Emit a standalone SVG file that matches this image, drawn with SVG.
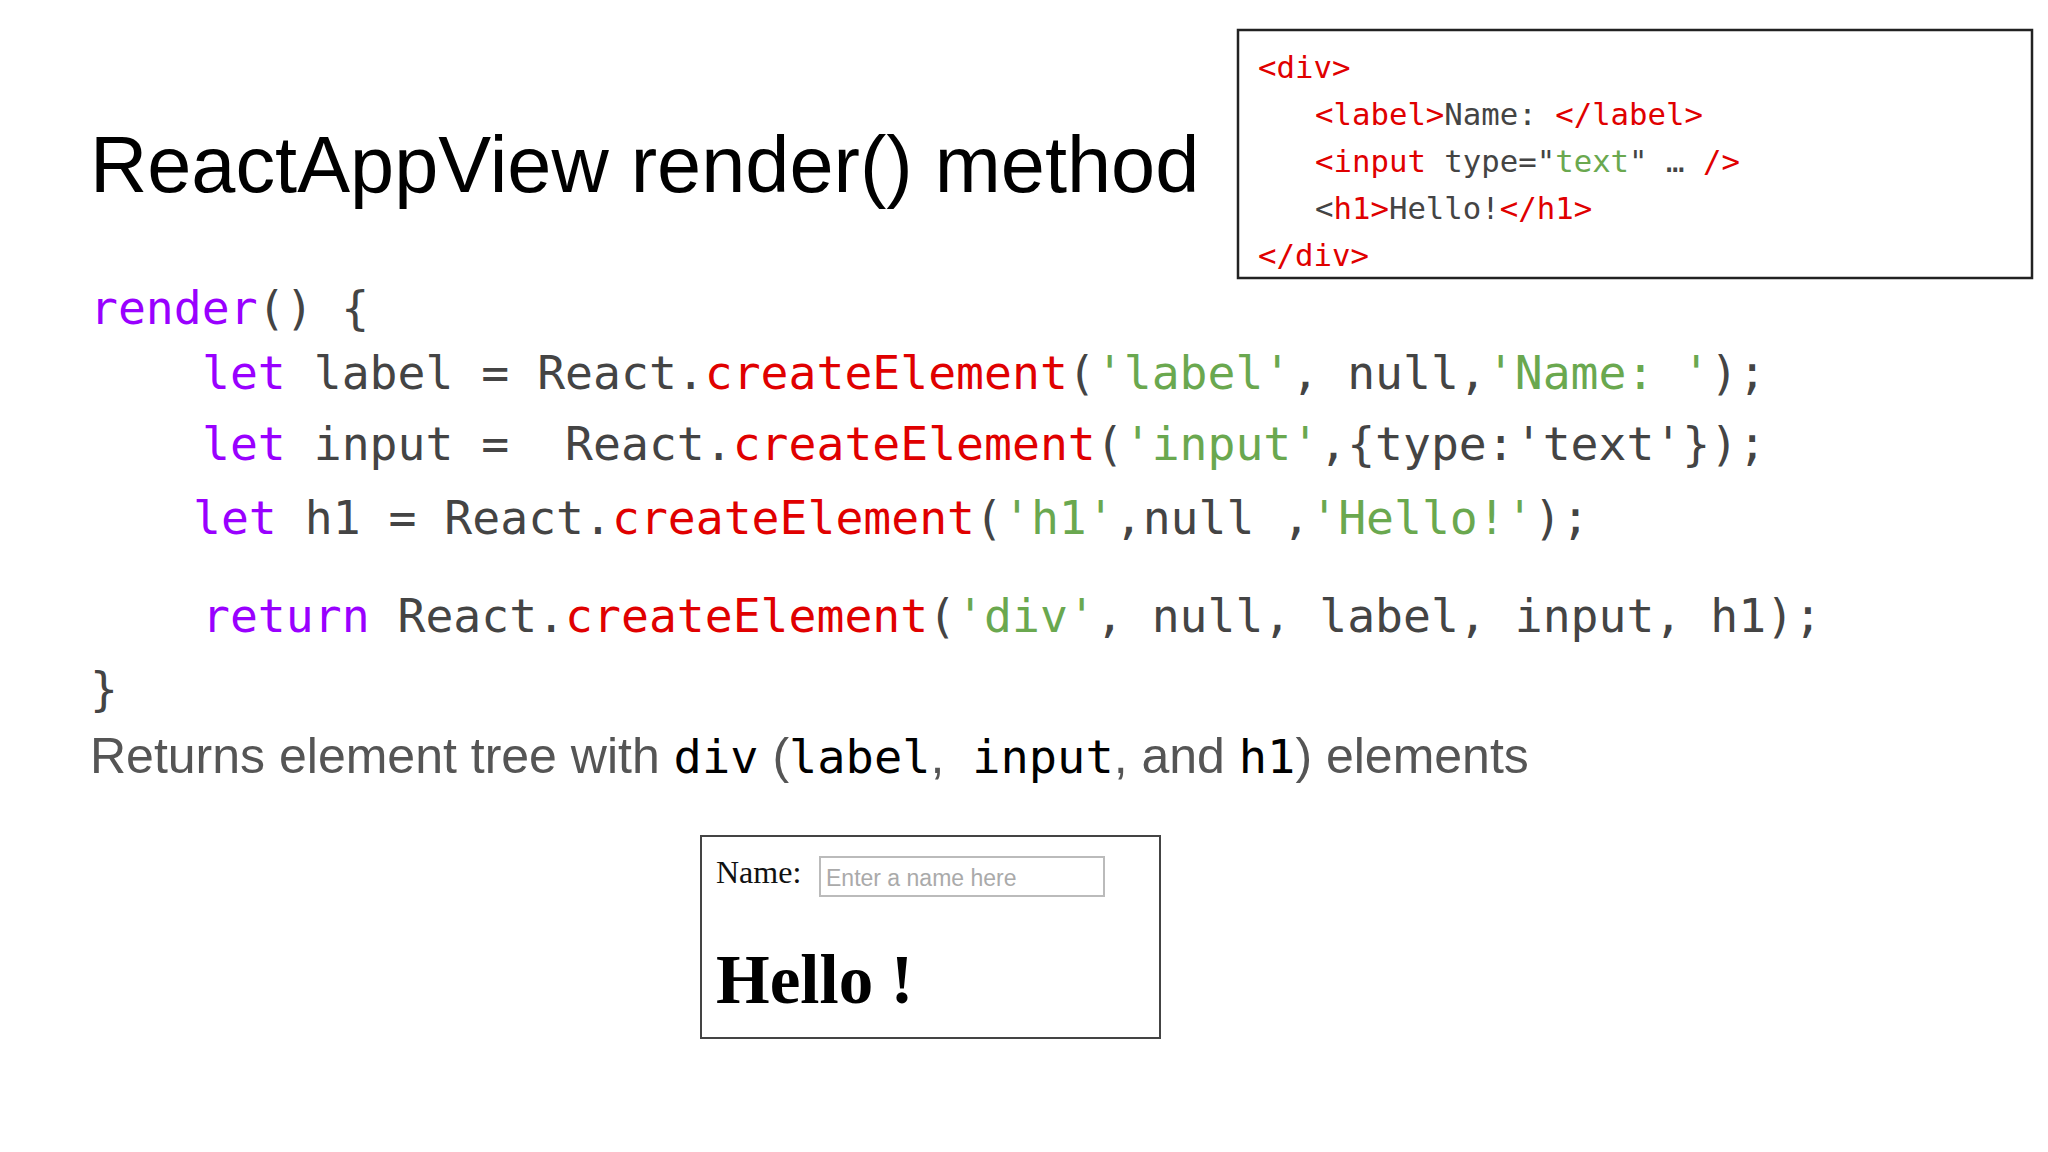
<svg xmlns="http://www.w3.org/2000/svg" width="2048" height="1152" viewBox="0 0 2048 1152">
<style>
text{white-space:pre}
.m{font-family:"DejaVu Sans Mono","Liberation Mono",monospace}
.c{font-size:46.4px;fill:#444}
.k{fill:#9900ff}.r{fill:#e00000}.g{fill:#6aa84f}.b{fill:#000}
.h{font-size:30.7px;fill:#444}
</style>
<rect width="2048" height="1152" fill="#fff"/>
<g id="title"><text x="90" y="192" font-family="Liberation Sans,Arial,sans-serif" font-size="79.3" fill="#000">ReactAppView render() method</text></g>
<g id="code" class="m c" xml:space="preserve">
<text x="90" y="324"><tspan class="k">render</tspan>() {</text>
<text x="202" y="389"><tspan class="k">let</tspan> label = React.<tspan class="r">createElement</tspan>(<tspan class="g">'label'</tspan>, null,<tspan class="g">'Name: '</tspan>);</text>
<text x="202" y="460"><tspan class="k">let</tspan> input =  React.<tspan class="r">createElement</tspan>(<tspan class="g">'input'</tspan>,{type:'text'});</text>
<text x="193" y="534"><tspan class="k">let</tspan> h1 = React.<tspan class="r">createElement</tspan>(<tspan class="g">'h1'</tspan>,null ,<tspan class="g">'Hello!'</tspan>);</text>
<text x="202" y="632"><tspan class="k">return</tspan> React.<tspan class="r">createElement</tspan>(<tspan class="g">'div'</tspan>, null, label, input, h1);</text>
<text x="90" y="705">}</text>
</g>
<g id="returns"><text x="90" y="773" font-family="Liberation Sans,Arial,sans-serif" font-size="50" fill="#555" xml:space="preserve">Returns element tree with <tspan class="m b" font-size="47">div</tspan> (<tspan class="m b" font-size="47">label</tspan>,  <tspan class="m b" font-size="47">input</tspan>, and <tspan class="m b" font-size="47">h1</tspan>) elements</text></g>
<g id="html-box">
<rect x="1238" y="30" width="794" height="248" fill="#fff" stroke="#222" stroke-width="2.5"/>
<g class="m h" xml:space="preserve">
<text x="1258" y="78" class="r">&lt;div&gt;</text>
<text x="1315" y="125"><tspan class="r">&lt;label&gt;</tspan>Name: <tspan class="r">&lt;/label&gt;</tspan></text>
<text x="1315" y="172"><tspan class="r">&lt;input</tspan> type="<tspan class="g">text</tspan>" … <tspan class="r">/&gt;</tspan></text>
<text x="1315" y="219">&lt;<tspan class="r">h1&gt;</tspan>Hello!<tspan class="r">&lt;/h1&gt;</tspan></text>
<text x="1258" y="266" class="r">&lt;/div&gt;</text>
</g>
</g>
<g id="rendered">
<rect x="701" y="836" width="459" height="202" fill="#fff" stroke="#444" stroke-width="2"/>
<text x="716" y="883" font-family="Liberation Serif,serif" font-size="32" fill="#111">Name:</text>
<rect x="820" y="857" width="284" height="39" fill="#fff" stroke="#bbb" stroke-width="2"/>
<text x="826" y="886" font-family="Liberation Sans,Arial,sans-serif" font-size="23" fill="#aaa">Enter a name here</text>
<text x="716" y="1003" font-family="Liberation Serif,serif" font-size="69" font-weight="bold" fill="#000">Hello !</text>
</g>
</svg>
